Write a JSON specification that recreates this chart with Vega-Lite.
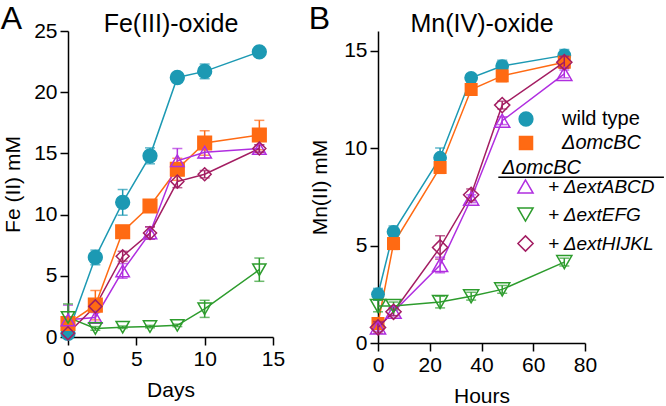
{
  "$schema": "https://vega.github.io/schema/vega-lite/v6.json",
  "padding": {"left": 0, "top": 3, "right": 0, "bottom": 0},
  "datasets": {
    "A": [
      {"s": "wild type", "t": 0, "v": 0.3, "e": 0.2},
      {"s": "wild type", "t": 2, "v": 6.5, "e": 0.6},
      {"s": "wild type", "t": 4, "v": 11.0, "e": 1.05},
      {"s": "wild type", "t": 6, "v": 14.8, "e": 0.65},
      {"s": "wild type", "t": 8, "v": 21.2, "e": 0.2},
      {"s": "wild type", "t": 10, "v": 21.7, "e": 0.6},
      {"s": "wild type", "t": 14, "v": 23.3, "e": 0.2},
      {"s": "ΔomcBC", "t": 0, "v": 1.1, "e": 0.3},
      {"s": "ΔomcBC", "t": 2, "v": 2.6, "e": 1.2},
      {"s": "ΔomcBC", "t": 4, "v": 8.6, "e": 0.5},
      {"s": "ΔomcBC", "t": 6, "v": 10.7, "e": 0.4},
      {"s": "ΔomcBC", "t": 8, "v": 13.7, "e": 0.9},
      {"s": "ΔomcBC", "t": 10, "v": 15.85, "e": 1.0},
      {"s": "ΔomcBC", "t": 14, "v": 16.5, "e": 1.2},
      {"s": "+ ΔextABCD", "t": 0, "v": 1.4, "e": 1.2},
      {"s": "+ ΔextABCD", "t": 2, "v": 1.6, "e": 0.4},
      {"s": "+ ΔextABCD", "t": 4, "v": 5.4, "e": 0.6},
      {"s": "+ ΔextABCD", "t": 6, "v": 8.5, "e": 0.5},
      {"s": "+ ΔextABCD", "t": 8, "v": 14.4, "e": 1.0},
      {"s": "+ ΔextABCD", "t": 10, "v": 15.1, "e": 0.5},
      {"s": "+ ΔextABCD", "t": 14, "v": 15.4, "e": 0.3},
      {"s": "+ ΔextEFG", "t": 0, "v": 1.6, "e": 1.1},
      {"s": "+ ΔextEFG", "t": 2, "v": 0.7, "e": 0.15},
      {"s": "+ ΔextEFG", "t": 4, "v": 0.8, "e": 0.1},
      {"s": "+ ΔextEFG", "t": 6, "v": 0.85, "e": 0.1},
      {"s": "+ ΔextEFG", "t": 8, "v": 0.95, "e": 0.1},
      {"s": "+ ΔextEFG", "t": 10, "v": 2.3, "e": 0.7},
      {"s": "+ ΔextEFG", "t": 14, "v": 5.5, "e": 0.95},
      {"s": "+ ΔextHIJKL", "t": 0, "v": 0.3, "e": 0.2},
      {"s": "+ ΔextHIJKL", "t": 2, "v": 2.5, "e": 0.4},
      {"s": "+ ΔextHIJKL", "t": 4, "v": 6.6, "e": 0.4},
      {"s": "+ ΔextHIJKL", "t": 6, "v": 8.5, "e": 0.5},
      {"s": "+ ΔextHIJKL", "t": 8, "v": 12.7, "e": 0.5},
      {"s": "+ ΔextHIJKL", "t": 10, "v": 13.3, "e": 0.3},
      {"s": "+ ΔextHIJKL", "t": 14, "v": 15.4, "e": 0.3}
    ],
    "B": [
      {"s": "wild type", "t": 0, "v": 2.5, "e": 0.3},
      {"s": "wild type", "t": 6, "v": 5.7, "e": 0.3},
      {"s": "wild type", "t": 24, "v": 9.5, "e": 0.5},
      {"s": "wild type", "t": 36, "v": 13.6, "e": 0.2},
      {"s": "wild type", "t": 48, "v": 14.2, "e": 0.3},
      {"s": "wild type", "t": 72, "v": 14.75, "e": 0.3},
      {"s": "ΔomcBC", "t": 0, "v": 1.0, "e": 0.2},
      {"s": "ΔomcBC", "t": 6, "v": 5.1, "e": 0.3},
      {"s": "ΔomcBC", "t": 24, "v": 9.0, "e": 0.3},
      {"s": "ΔomcBC", "t": 36, "v": 13.0, "e": 0.2},
      {"s": "ΔomcBC", "t": 48, "v": 13.7, "e": 0.3},
      {"s": "ΔomcBC", "t": 72, "v": 14.4, "e": 0.3},
      {"s": "+ ΔextABCD", "t": 0, "v": 0.8, "e": 0.2},
      {"s": "+ ΔextABCD", "t": 6, "v": 1.6, "e": 0.2},
      {"s": "+ ΔextABCD", "t": 24, "v": 4.0, "e": 0.4},
      {"s": "+ ΔextABCD", "t": 36, "v": 7.4, "e": 0.2},
      {"s": "+ ΔextABCD", "t": 48, "v": 11.4, "e": 0.2},
      {"s": "+ ΔextABCD", "t": 72, "v": 13.8, "e": 0.2},
      {"s": "+ ΔextEFG", "t": 0, "v": 1.9, "e": 0.3},
      {"s": "+ ΔextEFG", "t": 6, "v": 1.9, "e": 0.2},
      {"s": "+ ΔextEFG", "t": 24, "v": 2.1, "e": 0.3},
      {"s": "+ ΔextEFG", "t": 36, "v": 2.4, "e": 0.2},
      {"s": "+ ΔextEFG", "t": 48, "v": 2.75, "e": 0.2},
      {"s": "+ ΔextEFG", "t": 72, "v": 4.15, "e": 0.2},
      {"s": "+ ΔextHIJKL", "t": 0, "v": 0.8, "e": 0.3},
      {"s": "+ ΔextHIJKL", "t": 6, "v": 1.6, "e": 0.2},
      {"s": "+ ΔextHIJKL", "t": 24, "v": 4.9, "e": 0.6},
      {"s": "+ ΔextHIJKL", "t": 36, "v": 7.6, "e": 0.3},
      {"s": "+ ΔextHIJKL", "t": 48, "v": 12.2, "e": 0.2},
      {"s": "+ ΔextHIJKL", "t": 72, "v": 14.4, "e": 0.3}
    ]
  },
  "spacing": 23,
  "hconcat": [
    {
      "width": 205,
      "height": 306,
      "title": {"text": "A", "anchor": "start", "frame": "bounds", "fontSize": 32, "dx": -2, "offset": -25},
      "data": {"name": "A"},
      "layer": [
        {
          "mark": {"type": "errorbar", "ticks": {"size": 10, "thickness": 1.5}, "thickness": 1.5},
          "encoding": {
            "x": {"field": "t", "type": "quantitative", "scale": {"domain": [0, 15], "nice": false}, "axis": {"values": [0, 5, 10, 15], "title": "Days"}},
            "y": {"field": "v", "type": "quantitative", "scale": {"domain": [0, 25], "nice": false}, "axis": {"values": [0, 5, 10, 15, 20, 25], "title": "Fe (II) mM"}},
            "yError": {"field": "e"},
            "color": {"field": "s", "type": "nominal", "scale": {"domain": ["wild type", "ΔomcBC", "+ ΔextABCD", "+ ΔextEFG", "+ ΔextHIJKL"], "range": ["#1c99b3", "#ff6a13", "#b02ee0", "#2d9c2d", "#a31d62"]}, "legend": null}
          }
        },
        {
          "mark": {"type": "line", "strokeWidth": 1.5},
          "encoding": {
            "x": {"field": "t", "type": "quantitative", "axis": null},
            "y": {"field": "v", "type": "quantitative"},
            "color": {"field": "s", "type": "nominal", "legend": null}
          }
        },
        {
          "mark": {"type": "point", "filled": false, "opacity": 1, "strokeWidth": 1.5},
          "encoding": {
            "x": {"field": "t", "type": "quantitative", "axis": {"orient": "top", "title": "Fe(III)-oxide", "domain": false, "ticks": false, "labels": false, "titleFontSize": 25, "titleY": 0, "titleBaseline": "alphabetic"}},
            "y": {"field": "v", "type": "quantitative"},
            "color": {"field": "s", "type": "nominal", "legend": null},
            "fill": {"field": "s", "type": "nominal", "scale": {"domain": ["wild type", "ΔomcBC", "+ ΔextABCD", "+ ΔextEFG", "+ ΔextHIJKL"], "range": ["#1c99b3", "#ff6a13", "transparent", "transparent", "transparent"]}, "legend": null},
            "shape": {"field": "s", "type": "nominal", "scale": {"domain": ["wild type", "ΔomcBC", "+ ΔextABCD", "+ ΔextEFG", "+ ΔextHIJKL"], "range": ["circle", "square", "triangle-up", "triangle-down", "diamond"]}, "legend": null},
            "size": {"field": "s", "type": "nominal", "scale": {"domain": ["wild type", "ΔomcBC", "+ ΔextABCD", "+ ΔextEFG", "+ ΔextHIJKL"], "range": [190, 170, 230, 230, 260]}, "legend": null}
          }
        }
      ],
      "resolve": {"axis": {"x": "independent"}}
    },
    {
      "width": 207,
      "height": 312,
      "title": {"text": "B", "anchor": "start", "frame": "bounds", "fontSize": 32, "dx": -1, "offset": -25},
      "data": {"name": "B"},
      "layer": [
        {
          "transform": [{"filter": {"field": "s", "oneOf": ["wild type", "ΔomcBC"]}}],
          "layer": [
            {
              "mark": {"type": "errorbar", "ticks": {"size": 10, "thickness": 1.5}, "thickness": 1.5},
              "encoding": {
                "x": {"field": "t", "type": "quantitative", "scale": {"domain": [0, 80], "nice": false}, "axis": {"values": [0, 20, 40, 60, 80], "title": "Hours"}},
                "y": {"field": "v", "type": "quantitative", "scale": {"domain": [0, 16], "nice": false}, "axis": {"values": [0, 5, 10, 15], "title": "Mn(II) mM", "titlePadding": 13}},
                "yError": {"field": "e"},
                "color": {"field": "s", "type": "nominal", "scale": {"domain": ["wild type", "ΔomcBC"], "range": ["#1c99b3", "#ff6a13"]}, "legend": null}
              }
            },
            {
              "layer": [
                {
                  "mark": {"type": "line", "strokeWidth": 1.5},
                  "encoding": {
                    "x": {"field": "t", "type": "quantitative"},
                    "y": {"field": "v", "type": "quantitative", "axis": {"values": [0, 5, 10, 15], "title": "Mn(II) mM", "titlePadding": 13}},
                    "color": {
                      "field": "s", "type": "nominal", "scale": {"domain": ["wild type", "ΔomcBC"], "range": ["#1c99b3", "#ff6a13"]},
                      "legend": {
                        "title": null, "orient": "none", "legendX": 138, "legendY": 78, "padding": 0,
                        "symbolSize": 169, "symbolStrokeWidth": 1.5, "labelFontSize": 20, "labelOffset": 26, "rowPadding": 4,
                        "encoding": {
                          "symbols": {"opacity": {"value": 1}},
                          "labels": {"fontStyle": {"condition": {"test": "datum.value == 'wild type'", "value": "normal"}, "value": "italic"}}
                        }
                      }
                    }
                  }
                },
                {
                  "mark": {"type": "point", "filled": true, "opacity": 1},
                  "encoding": {
                    "x": {"field": "t", "type": "quantitative"},
                    "y": {"field": "v", "type": "quantitative", "axis": {"values": [0, 5, 10, 15], "title": "Mn(II) mM", "titlePadding": 13}},
                    "shape": {"field": "s", "type": "nominal", "scale": {"domain": ["wild type", "ΔomcBC"], "range": ["circle", "square"]}, "legend": null},
                    "size": {"field": "s", "type": "nominal", "scale": {"domain": ["wild type", "ΔomcBC"], "range": [190, 170]}, "legend": null},
                    "color": {
                      "field": "s", "type": "nominal",
                      "legend": {
                        "title": null, "orient": "none", "legendX": 138, "legendY": 78, "padding": 0,
                        "symbolSize": 169, "symbolStrokeWidth": 1.5, "labelFontSize": 20, "labelOffset": 26, "rowPadding": 4,
                        "encoding": {
                          "symbols": {"opacity": {"value": 1}},
                          "labels": {"fontStyle": {"condition": {"test": "datum.value == 'wild type'", "value": "normal"}, "value": "italic"}}
                        }
                      }
                    }
                  }
                }
              ]
            }
          ],
          "resolve": {"scale": {"color": "independent", "shape": "independent", "size": "independent"}}
        },
        {
          "transform": [{"filter": {"field": "s", "oneOf": ["+ ΔextABCD", "+ ΔextEFG", "+ ΔextHIJKL"]}}],
          "layer": [
            {
              "mark": {"type": "errorbar", "ticks": {"size": 10, "thickness": 1.5}, "thickness": 1.5},
              "encoding": {
                "x": {"field": "t", "type": "quantitative", "axis": null},
                "y": {"field": "v", "type": "quantitative", "axis": {"values": [0, 5, 10, 15], "title": "Mn(II) mM", "titlePadding": 13}},
                "yError": {"field": "e"},
                "color": {"field": "s", "type": "nominal", "scale": {"domain": ["+ ΔextABCD", "+ ΔextEFG", "+ ΔextHIJKL"], "range": ["#b02ee0", "#2d9c2d", "#a31d62"]}, "legend": null}
              }
            },
            {
              "layer": [
                {
                  "mark": {"type": "line", "strokeWidth": 1.5},
                  "encoding": {
                    "x": {"field": "t", "type": "quantitative", "axis": null},
                    "y": {"field": "v", "type": "quantitative", "axis": {"values": [0, 5, 10, 15], "title": "Mn(II) mM", "titlePadding": 13}},
                    "color": {
                      "field": "s", "type": "nominal", "scale": {"domain": ["+ ΔextABCD", "+ ΔextEFG", "+ ΔextHIJKL"], "range": ["#b02ee0", "#2d9c2d", "#a31d62"]},
                      "legend": {
                        "title": "ΔomcBC", "titleFontSize": 20, "titleFontStyle": "italic", "titleFontWeight": "normal", "titlePadding": -1,
                        "orient": "none", "legendX": 124, "legendY": 127, "padding": 0, "symbolOffset": 14,
                        "symbolSize": 169, "symbolStrokeWidth": 1.5, "labelFontSize": 19, "labelFontStyle": "italic", "labelOffset": 13, "rowPadding": 7,
                        "encoding": {"symbols": {"opacity": {"value": 1}}}
                      }
                    }
                  }
                },
                {
                  "mark": {"type": "point", "filled": false, "opacity": 1, "strokeWidth": 1.5},
                  "encoding": {
                    "x": {"field": "t", "type": "quantitative", "axis": null},
                    "y": {"field": "v", "type": "quantitative", "axis": {"values": [0, 5, 10, 15], "title": "Mn(II) mM", "titlePadding": 13}},
                    "shape": {"field": "s", "type": "nominal", "scale": {"domain": ["+ ΔextABCD", "+ ΔextEFG", "+ ΔextHIJKL"], "range": ["triangle-up", "triangle-down", "diamond"]}, "legend": null},
                    "size": {"field": "s", "type": "nominal", "scale": {"domain": ["+ ΔextABCD", "+ ΔextEFG", "+ ΔextHIJKL"], "range": [230, 230, 260]}, "legend": null},
                    "color": {
                      "field": "s", "type": "nominal",
                      "legend": {
                        "title": "ΔomcBC", "titleFontSize": 20, "titleFontStyle": "italic", "titleFontWeight": "normal", "titlePadding": -1,
                        "orient": "none", "legendX": 124, "legendY": 127, "padding": 0, "symbolOffset": 14,
                        "symbolSize": 169, "symbolStrokeWidth": 1.5, "labelFontSize": 19, "labelFontStyle": "italic", "labelOffset": 13, "rowPadding": 7,
                        "encoding": {"symbols": {"opacity": {"value": 1}}}
                      }
                    }
                  }
                }
              ]
            }
          ],
          "resolve": {"scale": {"color": "independent", "shape": "independent", "size": "independent"}}
        },
        {
          "data": {"values": [{}]},
          "mark": {"type": "rule", "color": "black", "strokeWidth": 1.5},
          "encoding": {
            "x": {"datum": 46.5, "type": "quantitative", "axis": {"orient": "top", "title": "Mn(IV)-oxide", "domain": false, "ticks": false, "labels": false, "titleFontSize": 25, "titleY": 0, "titleBaseline": "alphabetic"}},
            "x2": {"datum": 110.5},
            "y": {"datum": 8.5, "type": "quantitative", "axis": {"values": [0, 5, 10, 15], "title": "Mn(II) mM", "titlePadding": 13}}
          }
        }
      ],
      "resolve": {"scale": {"color": "independent", "shape": "independent", "size": "independent"}, "axis": {"x": "independent"}}
    }
  ],
  "resolve": {"scale": {"color": "independent", "shape": "independent", "size": "independent", "fill": "independent"}},
  "config": {
    "view": {"stroke": null},
    "font": "Liberation Sans",
    "title": {"font": "Liberation Sans", "fontWeight": "normal", "color": "black"},
    "axis": {
      "domainColor": "black", "domainWidth": 1.5, "tickColor": "black", "tickWidth": 1.5, "tickSize": 8,
      "labelFont": "Liberation Sans", "labelFontSize": 21, "labelColor": "black", "labelPadding": 3, "labelFlush": false, "labelOverlap": false,
      "titleFont": "Liberation Sans", "titleFontSize": 21, "titleFontWeight": "normal", "titleColor": "black", "titlePadding": 10, "grid": false
    },
    "legend": {"labelFont": "Liberation Sans", "labelColor": "black", "titleFont": "Liberation Sans", "titleColor": "black"}
  }
}
